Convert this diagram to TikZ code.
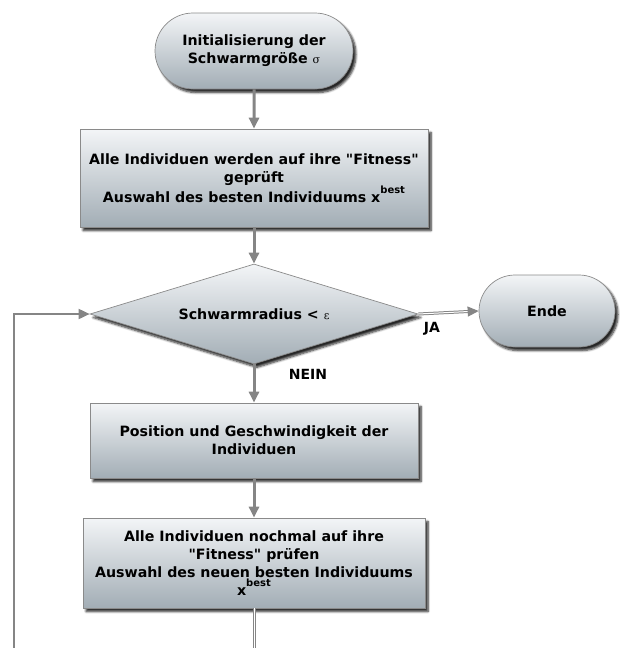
\documentclass[tikz,border=0pt]{standalone}
\usepackage{fontspec}
\setmainfont{DejaVu Sans}
\newfontfamily\griech{DejaVu Serif}
\usetikzlibrary{shapes.geometric,shapes.misc,shadows.blur,arrows.meta}

\definecolor{hell}{HTML}{F3F5F7}
\definecolor{dunkel}{HTML}{A2ADB5}
\definecolor{rahmen}{HTML}{8A8A8A}
\definecolor{linie}{HTML}{858585}

\newcommand{\xbest}{x\raisebox{1.1ex}{\fontsize{10}{10}\selectfont best}}
\newcommand{\zeichen}[1]{{\griech\mdseries\fontsize{11}{11}\selectfont #1}}

\tikzset{
  schatten/.style={blur shadow={shadow xshift=3pt, shadow yshift=-3.5pt, shadow blur steps=6, shadow opacity=85}},
  kasten/.style={rectangle, draw=rahmen, line width=0.7pt, top color=hell, bottom color=dunkel, schatten,
    font=\fontsize{14.2}{18}\selectfont\bfseries, align=center, inner sep=0pt},
  terminal/.style={kasten, rounded rectangle},
  raute/.style={kasten, diamond, aspect=3.3},
  pfeil/.style={draw=linie, line width=3pt, -{Triangle[length=11pt, width=10pt]}},
  rueck/.style={draw=linie, line width=1.8pt},
  doppel/.style={draw=linie, double=white, double distance=1pt, line width=1pt},
  antwort/.style={font=\fontsize{14}{14}\selectfont\bfseries}
}

\begin{document}
\begin{tikzpicture}[x=1pt, y=-1pt]
  \useasboundingbox (0,0) rectangle (619,648);

  \node[terminal, minimum width=198pt, minimum height=76pt] at (254,51) (start)
    {Initialisierung der\\Schwarmgröße \zeichen{σ}};
  \node[kasten, minimum width=348pt, minimum height=98pt] at (254,178) (pruefen)
    {Alle Individuen werden auf ihre \textquotedbl Fitness\textquotedbl\\geprüft\\Auswahl des besten Individuums \xbest};
  \node[raute, minimum width=328pt, minimum height=100pt] at (254,314) (radius)
    {Schwarmradius < \zeichen{ε}};
  \node[terminal, minimum width=136pt, minimum height=72pt] at (547,311) (ende) {Ende};
  \node[kasten, minimum width=328pt, minimum height=75pt] at (254,440.5) (position)
    {Position und Geschwindigkeit der\\Individuen};
  \node[kasten, minimum width=342pt, minimum height=90pt] at (254,563) (neu)
    {Alle Individuen nochmal auf ihre\\\textquotedbl Fitness\textquotedbl\ prüfen\\Auswahl des neuen besten Individuums\\\xbest};

  \coordinate (unten) at (254,648);
  \coordinate (links) at (14,648);

  \draw[pfeil] (start) -- (pruefen);
  \draw[pfeil] (pruefen) -- (radius);
  \draw[pfeil] (radius) -- (position);
  \draw[pfeil] (position) -- (neu);
  \draw[doppel, -{Triangle[length=11pt, width=10pt]}] (radius.east) -- (ende.west);
  \draw[doppel] (neu) -- (unten);
  \draw[rueck, -{Triangle[length=11pt, width=10pt]}] (links) |- (radius.west);

  \node[antwort] at (432,329) (ja) {JA};
  \node[antwort] at (308,374) (nein) {NEIN};
\end{tikzpicture}
\end{document}
